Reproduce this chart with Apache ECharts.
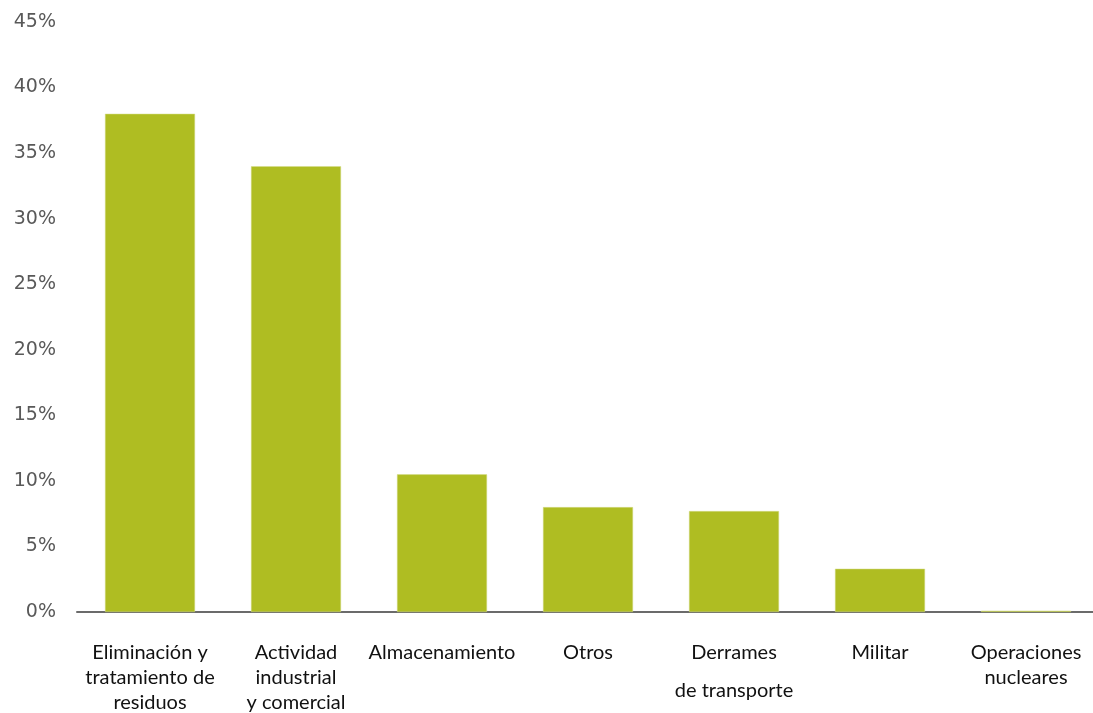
<!DOCTYPE html>
<html>
<head>
<meta charset="utf-8">
<script src="https://cdn.jsdelivr.net/npm/echarts@6/dist/echarts.min.js"></script>
<style>
html,body{margin:0;padding:0;background:#fff;overflow:hidden;}
#c{width:1093px;height:713px;}
</style>
</head>
<body>
<div id="c"></div>
<script>
var categories = ['Eliminación y\ntratamiento de\nresiduos', 'Actividad\nindustrial\ny comercial', 'Almacenamiento', 'Otros', 'Derrames\nde transporte', 'Militar', 'Operaciones\nnucleares'];
var values = [38, 34, 10.5, 8, 7.7, 3.3, 0.1];
var yTicks = [0, 5, 10, 15, 20, 25, 30, 35, 40, 45];

var chart = echarts.init(document.getElementById('c'), null, {renderer: 'canvas'});
chart.setOption({
  animation: false,
  grid: {left: 77, width: 1022, top: 22, bottom: 101, containLabel: false, outerBoundsMode: 'none'},
  xAxis: {
    type: 'category',
    data: categories,
    axisLine: {lineStyle: {color: '#6b6b6b', width: 2}},
    axisTick: {show: false},
    axisLabel: {
      interval: 0,
      margin: 28,
      color: '#111',
      fontFamily: 'Lato',
      fontSize: 20,
      lineHeight: 25,
      formatter: function (v) {
        if (v.indexOf('Derrames') === 0) {
          var p = v.split('\n');
          return '{a|' + p[0] + '}\n{b|' + p[1] + '}';
        }
        return v;
      },
      rich: {
        a: {fontFamily: 'Lato', fontSize: 20, lineHeight: 25, color: '#111'},
        b: {fontFamily: 'Lato', fontSize: 20, lineHeight: 51, color: '#111'}
      }
    }
  },
  yAxis: {
    type: 'value',
    min: yTicks[0],
    max: yTicks[yTicks.length - 1],
    interval: 5,
    axisLine: {show: false},
    axisTick: {show: false},
    splitLine: {show: false},
    axisLabel: {
      margin: 21,
      color: '#595959',
      fontFamily: 'DejaVu Sans',
      fontSize: 19,
      formatter: '{value}%'
    }
  },
  series: [{
    type: 'bar',
    data: values,
    barWidth: 90,
    itemStyle: {color: '#AFBD22', borderColor: '#d4dc8a', borderWidth: 0.5}
  }]
});
</script>
</body>
</html>
